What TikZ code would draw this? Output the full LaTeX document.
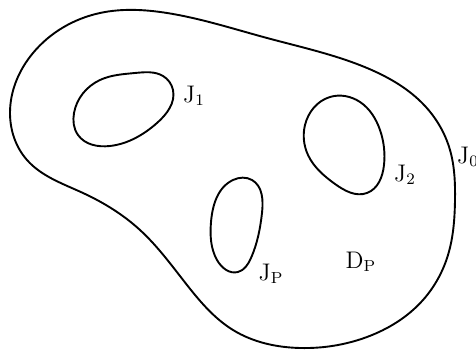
\documentclass[tikz,border=0pt]{standalone}
\usepackage{amsmath,amssymb}
\usepackage{tikz}
\usetikzlibrary{hobby}
\tikzset{
  curve/.style={draw, line width=0.95pt, line join=round, use Hobby shortcut, closed=true},
  lbl/.style={inner sep=1pt, font=\large},
}

\begin{document}
\begin{tikzpicture}[x=0.5pt, y=-0.5pt]
  \useasboundingbox (0,0) rectangle (476,351);
  % outer boundary
  \draw[curve] (10,113) .. (33,53) .. (100,13) .. (167,13) .. (267,38)
    .. (367,68) .. (425,106) .. (450,150) .. (455,200) .. (448,255) .. (423,300)
    .. (367,337) .. (300,348) .. (233,330) .. (187,285) .. (140,230)
    .. (83,193) .. (27,160);
  % holes
  \draw[curve] (74,113) .. (100,80) .. (135,73) .. (163,76) .. (173,90)
    .. (157,123) .. (110,146) .. (78,135);
  \draw[curve] (305,125) .. (330,97) .. (360,102) .. (380,130) .. (384,165)
    .. (367,193) .. (335,184) .. (308,155);
  \draw[curve] (211,222) .. (233,180) .. (252,180) .. (262,213) .. (251,258)
    .. (238,272) .. (217,260);
  % labels
  \node[lbl] (jone) at (194,96) {J$_1$};
  \node[lbl] (jtwo) at (405,175) {J$_2$};
  \node[lbl] (jp) at (271,274) {J$_{\mathrm{P}}$};
  \node[lbl] (dp) at (361,262) {D$_{\mathrm{P}}$};
  \node[lbl] (jzero) at (468,157) {J$_0$};
\end{tikzpicture}
\end{document}
